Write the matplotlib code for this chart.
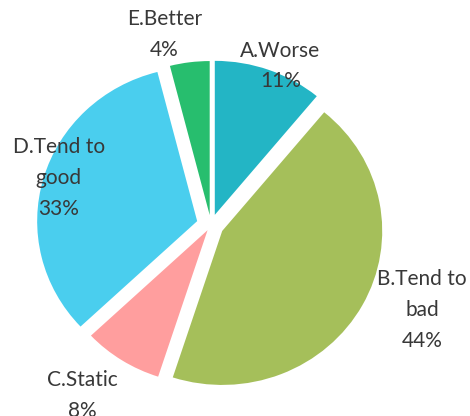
import numpy as np
import matplotlib
matplotlib.use("Agg")
import matplotlib.pyplot as plt

# data
categories = ["A.Worse", "B.Tend to\nbad", "C.Static", "D.Tend to\ngood", "E.Better"]
shares = [11, 44, 8, 33, 4]
colors = ["#23B5C5", "#A5BF5A", "#FF9E9E", "#4ACEEE", "#27BE6E"]

# per-slice pull-out and label placement (style only)
explode = [0.07, 0.08, 0.04, 0.09, 0.065]
label_dist = [1.12, 1.43, 1.37, 1.00, 1.27]
label_turn = [-3.0, 6.0, -3.5, -1.5, 6.0]

plt.rcParams['font.family'] = ['Lato', 'DejaVu Sans']

fig = plt.figure(figsize=(4.70, 4.16), dpi=100, facecolor='w')
ax = fig.add_axes([0, 0, 1, 1])

wedges, _ = ax.pie(shares, colors=colors, explode=explode, startangle=90,
                   counterclock=False, radius=1.0,
                   wedgeprops=dict(linewidth=0))

for w, name, v, d, t in zip(wedges, categories, shares, label_dist, label_turn):
    mid = np.deg2rad((w.theta1 + w.theta2) / 2.0 + t)
    ax.text(d * np.cos(mid), d * np.sin(mid), "%s\n%d%%" % (name, v),
            ha='center', va='center', fontsize=15, color='#383838',
            linespacing=1.68)

# the source image is slightly wider than tall, so the pie is an ellipse
rx, ry = 160.0, 154.0
cx, cy = 211.0, 225.0
ax.set_aspect('auto')
ax.set_xlim(-cx / rx, (470 - cx) / rx)
ax.set_ylim(-(416 - cy) / ry, cy / ry)
ax.axis('off')

plt.savefig("out.png", dpi=100, facecolor='w')
